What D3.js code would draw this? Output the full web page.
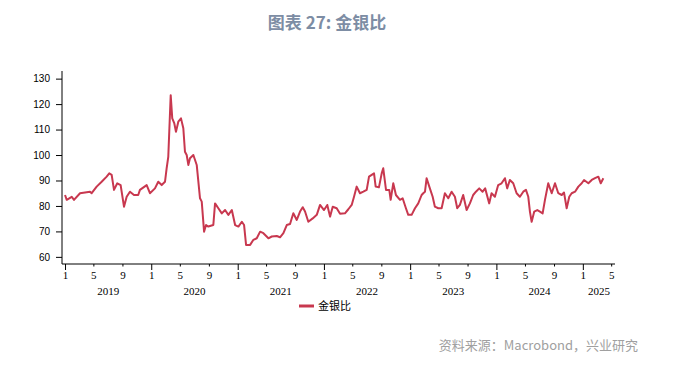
<!DOCTYPE html>
<html>
<head>
<meta charset="utf-8">
<script src="https://cdn.jsdelivr.net/npm/d3@7"></script>
<style>
  body { margin: 0; background: #fff; }
  #chart { width: 674px; height: 366px; }
</style>
</head>
<body>
<div id="chart"></div>
<script>
const times = [
  2019.000, 2019.020, 2019.078, 2019.104, 2019.174, 2019.290, 2019.309, 2019.367, 2019.425, 2019.483,
  2019.513, 2019.541, 2019.568, 2019.606, 2019.645, 2019.684, 2019.715, 2019.753, 2019.800, 2019.849,
  2019.869, 2019.947, 2019.985, 2020.043, 2020.081, 2020.121, 2020.159, 2020.178, 2020.197, 2020.225,
  2020.243, 2020.267, 2020.286, 2020.313, 2020.344, 2020.371, 2020.390, 2020.410, 2020.429, 2020.448,
  2020.487, 2020.526, 2020.564, 2020.584, 2020.611, 2020.634, 2020.660, 2020.718, 2020.738, 2020.776,
  2020.816, 2020.854, 2020.892, 2020.932, 2020.970, 2021.008, 2021.048, 2021.074, 2021.097, 2021.144,
  2021.182, 2021.221, 2021.260, 2021.298, 2021.356, 2021.395, 2021.453, 2021.491, 2021.530, 2021.569,
  2021.607, 2021.645, 2021.685, 2021.723, 2021.754, 2021.781, 2021.819, 2021.870, 2021.917, 2021.955,
  2022.001, 2022.039, 2022.071, 2022.102, 2022.148, 2022.187, 2022.244, 2022.283, 2022.322, 2022.349,
  2022.380, 2022.418, 2022.457, 2022.496, 2022.523, 2022.554, 2022.581, 2022.600, 2022.638, 2022.670,
  2022.688, 2022.720, 2022.758, 2022.774, 2022.804, 2022.835, 2022.882, 2022.913, 2022.951, 2022.978,
  2023.017, 2023.056, 2023.094, 2023.133, 2023.152, 2023.172, 2023.191, 2023.222, 2023.261, 2023.287,
  2023.326, 2023.365, 2023.403, 2023.442, 2023.481, 2023.519, 2023.546, 2023.577, 2023.615, 2023.655,
  2023.693, 2023.731, 2023.763, 2023.801, 2023.840, 2023.870, 2023.917, 2023.944, 2023.983, 2024.021,
  2024.060, 2024.099, 2024.125, 2024.156, 2024.195, 2024.234, 2024.272, 2024.311, 2024.342, 2024.369,
  2024.388, 2024.408, 2024.438, 2024.473, 2024.504, 2024.535, 2024.562, 2024.600, 2024.640, 2024.678,
  2024.716, 2024.756, 2024.782, 2024.813, 2024.843, 2024.871, 2024.910, 2024.948, 2024.987, 2025.014,
  2025.064, 2025.103, 2025.141, 2025.180, 2025.208, 2025.238
];

// gold / silver ratio
const ratio = [
  84.3, 82.4, 83.6, 82.4, 85.0, 85.6, 85.0, 87.6, 89.5, 91.5,
  92.8, 92.2, 86.3, 88.9, 88.2, 79.7, 83.6, 85.6, 84.3, 84.3,
  86.3, 88.2, 85.0, 86.9, 89.5, 88.2, 89.5, 94.8, 99.3, 123.5,
  114.4, 112.4, 109.1, 113.1, 114.4, 110.5, 101.3, 100.0, 96.1, 98.7,
  100.0, 96.1, 83.0, 81.7, 69.9, 72.5, 71.9, 72.5, 81.0, 79.1,
  77.1, 78.4, 76.5, 78.4, 72.5, 71.9, 73.8, 72.5, 64.7, 64.7,
  66.7, 67.3, 69.9, 69.3, 67.3, 68.0, 68.2, 67.7, 69.3, 72.5,
  72.9, 77.1, 74.5, 77.8, 79.5, 77.8, 73.8, 75.1, 76.5, 80.4,
  78.4, 80.4, 75.8, 79.7, 79.1, 76.9, 77.1, 78.7, 80.4, 83.6,
  87.6, 85.0, 85.6, 86.3, 91.5, 92.2, 92.8, 87.6, 87.3, 92.8,
  94.8, 86.3, 86.3, 82.4, 88.9, 84.3, 82.4, 83.0, 79.1, 76.5,
  76.5, 79.1, 81.0, 84.3, 85.0, 85.6, 90.9, 87.6, 83.6, 79.7,
  79.1, 79.1, 85.0, 83.0, 85.6, 83.6, 79.1, 80.4, 84.3, 78.4,
  81.0, 84.3, 85.6, 86.9, 85.6, 86.9, 81.0, 85.0, 83.6, 88.2,
  88.9, 90.9, 86.9, 90.2, 88.9, 85.0, 83.6, 85.6, 86.3, 83.6,
  77.8, 73.8, 77.8, 78.4, 77.8, 77.1, 82.4, 88.9, 85.0, 88.9,
  85.0, 84.3, 85.3, 79.1, 83.6, 85.0, 85.6, 87.6, 88.9, 90.2,
  88.9, 90.2, 90.9, 91.5, 88.9, 90.9
];

const years = [2019, 2020, 2021, 2022, 2023, 2024, 2025];
const tickMonths = [1, 5, 9];
const yTicks = [60, 70, 80, 90, 100, 110, 120, 130];
const seriesName = "金银比";

function toDate(t) {
  const y = Math.floor(t);
  const start = new Date(y, 0, 1);
  const end = new Date(y + 1, 0, 1);
  return new Date(+start + (t - y) * (end - start));
}

const data = times.map((t, i) => ({ date: toDate(t), value: ratio[i] }));

function drawChart(width, height) {
  const margin = { top: 71, right: 59, bottom: 102, left: 62 };
  const innerWidth = width - margin.left - margin.right;
  const innerHeight = height - margin.top - margin.bottom;

  const svg = d3.select("#chart")
    .append("svg")
    .attr("width", width)
    .attr("height", height)
    .attr("viewBox", `0 0 ${width} ${height}`);

  svg.append("text")
    .attr("x", 327)
    .attr("y", 29)
    .attr("text-anchor", "middle")
    .style("font-family", "'Noto Sans CJK SC', sans-serif")
    .style("font-size", "17px")
    .style("font-weight", "bold")
    .style("fill", "#7d8da4")
    .text("图表 27: 金银比");

  const g = svg.append("g")
    .attr("transform", `translate(${margin.left},${margin.top})`);

  const xScale = d3.scaleTime()
    .domain([toDate(2018.965), toDate(2025.373)])
    .range([0, innerWidth]);

  const yScale = d3.scaleLinear()
    .domain([57.2, 133])
    .range([innerHeight, 0]);

  // y axis
  const yAxis = d3.axisLeft(yScale)
    .tickValues(yTicks)
    .tickSize(6)
    .tickPadding(6);

  const yg = g.append("g").call(yAxis);
  yg.select(".domain").attr("stroke", "#000").attr("d", `M0,0V${innerHeight}`);
  yg.selectAll(".tick line").attr("stroke", "#000");
  yg.selectAll(".tick text")
    .style("font-family", "'Liberation Sans', Arial, sans-serif")
    .style("font-size", "10px")
    .style("fill", "#000");

  // x axis: month ticks 1, 5, 9 per year
  const monthTicks = [];
  years.forEach(y => tickMonths.forEach(m => {
    const d = new Date(y, m - 1, 1);
    if (d <= xScale.domain()[1]) monthTicks.push(d);
  }));

  const xAxis = d3.axisBottom(xScale)
    .tickValues(monthTicks)
    .tickSize(0)
    .tickPadding(7)
    .tickFormat(d => d.getMonth() + 1);

  const xg = g.append("g")
    .attr("transform", `translate(0,${innerHeight})`)
    .call(xAxis);
  xg.select(".domain").attr("stroke", "#000").attr("d", `M0,0H${innerWidth}`);
  xg.selectAll(".tick line")
    .attr("stroke", "#000")
    .attr("y2", d => d.getMonth() === 0 ? 6 : 2.5);
  xg.selectAll(".tick text")
    .style("font-family", "'Liberation Serif', 'Times New Roman', serif")
    .style("font-size", "11px")
    .style("fill", "#000");

  // year labels centred on visible part of each year
  const [d0, d1] = xScale.domain();
  g.append("g")
    .selectAll(".year")
    .data(years)
    .enter()
    .append("text")
    .attr("class", "year")
    .attr("x", y => {
      const a = Math.max(+new Date(y, 0, 1), +d0);
      const b = Math.min(+new Date(y + 1, 0, 1), +d1);
      return (xScale(a) + xScale(b)) / 2;
    })
    .attr("y", innerHeight + 31)
    .attr("text-anchor", "middle")
    .style("font-family", "'Liberation Serif', 'Times New Roman', serif")
    .style("font-size", "11px")
    .style("fill", "#000")
    .text(y => y);

  const line = d3.line()
    .x(d => xScale(d.date))
    .y(d => yScale(d.value));

  g.append("path")
    .datum(data)
    .attr("fill", "none")
    .attr("stroke", "#c8384f")
    .attr("stroke-width", 2)
    .attr("stroke-linejoin", "round")
    .attr("d", line);

  // legend
  const legend = svg.append("g").attr("transform", "translate(299,306)");
  legend.append("line")
    .attr("x1", 0).attr("x2", 15)
    .attr("stroke", "#c8384f")
    .attr("stroke-width", 3);
  legend.append("text")
    .attr("x", 19)
    .attr("y", 4)
    .style("font-family", "'Noto Sans CJK SC', sans-serif")
    .style("font-size", "11px")
    .style("fill", "#000")
    .text(seriesName);

  svg.append("text")
    .attr("x", 638)
    .attr("y", 350)
    .attr("text-anchor", "end")
    .style("font-family", "'Noto Sans CJK SC', sans-serif")
    .style("font-size", "13px")
    .style("fill", "#a0a0a0")
    .text("资料来源：Macrobond，兴业研究");
}

drawChart(674, 366);
</script>
</body>
</html>
